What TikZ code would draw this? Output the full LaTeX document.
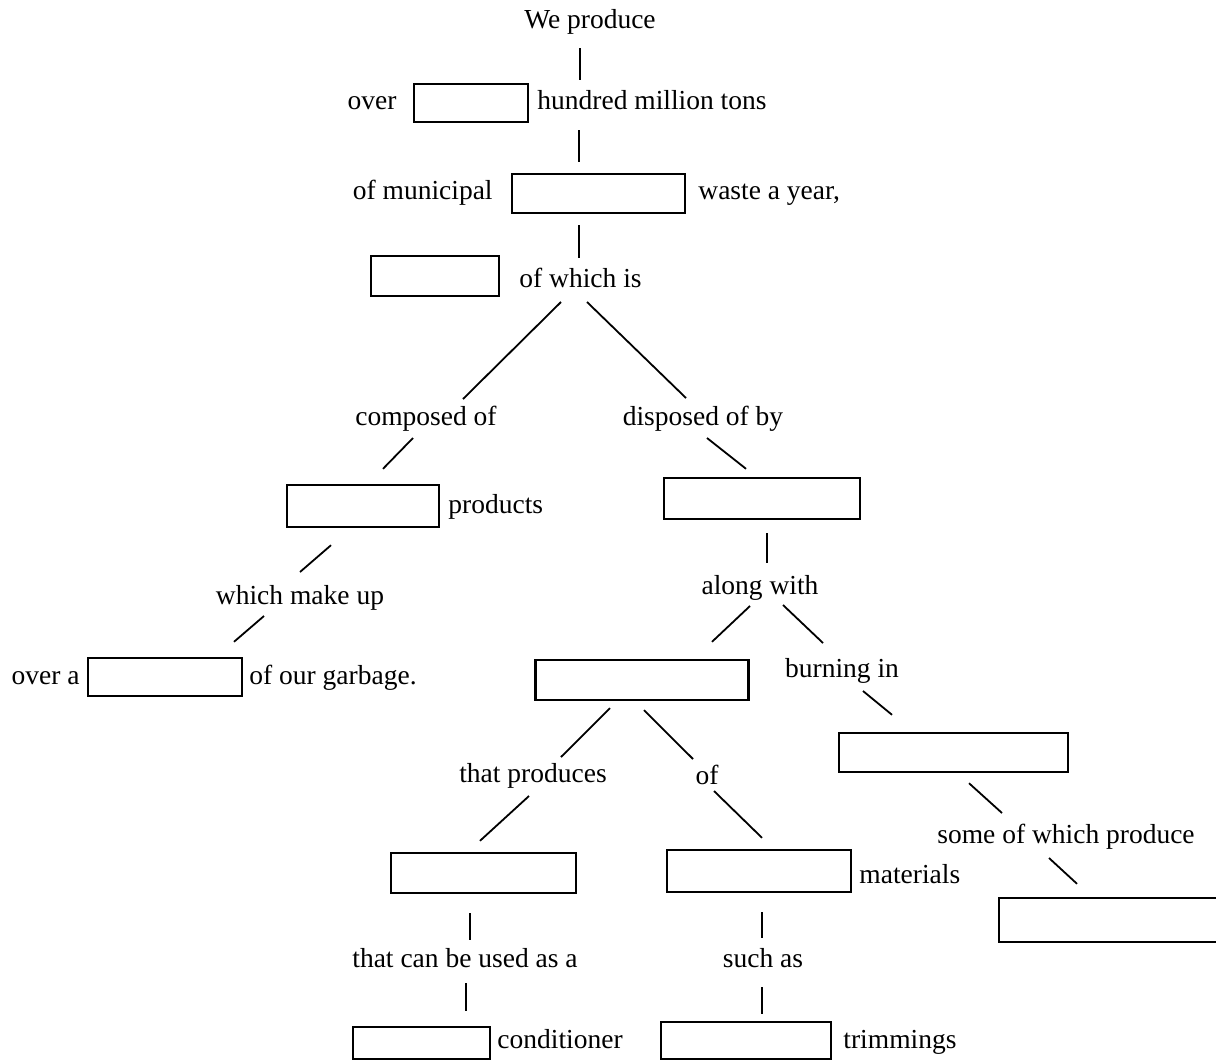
\documentclass[tikz,border=0pt]{standalone}
\usepackage{fontspec}
\setmainfont{Liberation Serif}
\usetikzlibrary{calc}
\newcommand\mapfont{\fontsize{13.75pt}{16pt}\selectfont}

\begin{document}
\begin{tikzpicture}[
        x=0.5pt, y=-0.5pt,
        word/.style  = {inner sep=0pt, font=\mapfont},
        blank/.style 2 args = {rectangle, draw, line width=1.2pt, inner sep=0pt,
                      minimum width=#1, minimum height=#2},
        link/.style  = {line width=0.9pt}
    ]
    \useasboundingbox (0,0) rectangle (1216,1061);
    % top chain
    \node[word, anchor=base] (wp) at (590,28) {We produce};
    \node[word, anchor=base east] (ov) at (397,109) {over};
    \node[blank={57pt}{19pt}] (b1) at (471,103) {};
    \node[word, anchor=base west] (hm) at (537,109) {hundred million tons};
    \node[word, anchor=base east] (om) at (493,199) {of municipal};
    \node[blank={86.5pt}{19.5pt}] (b2) at (598.5,193.5) {};
    \node[word, anchor=base west] (wy) at (698,199) {waste a year,};
    \node[blank={64pt}{20pt}] (b3) at (435,276) {};
    \node[word, anchor=base west] (wi) at (519,287) {of which is};
    % left branch
    \node[word, anchor=base] (co) at (426,425) {composed of};
    \node[blank={76pt}{21pt}] (b4) at (363,506) {};
    \node[word, anchor=base west] (pr) at (448,513) {products};
    \node[word, anchor=base] (wm) at (300,604) {which make up};
    \node[word, anchor=base east] (oa) at (80,684) {over a};
    \node[blank={77pt}{19pt}] (b6) at (165,677) {};
    \node[word, anchor=base west] (og) at (249,684) {of our garbage.};
    % right branch
    \node[word, anchor=base] (di) at (703,425) {disposed of by};
    \node[blank={98pt}{20.5pt}] (b5) at (762,498.5) {};
    \node[word, anchor=base] (al) at (760,594) {along with};
    \node[blank={106.5pt}{20pt}] (b7) at (642,680) {};
    \node[word, anchor=base] (bu) at (842,677) {burning in};
    \node[blank={114.5pt}{19.5pt}] (b8) at (953.5,752.5) {};
    \node[word, anchor=base] (tp) at (533,782) {that produces};
    \node[word, anchor=base] (of) at (707,784) {of};
    \node[word, anchor=base] (so) at (1066,843) {some of which produce};
    \node[blank={92.5pt}{20pt}] (b9) at (483.5,873) {};
    \node[blank={92pt}{21pt}] (b10) at (759,871) {};
    \node[word, anchor=base west] (ma) at (859,883) {materials};
    \node[blank={110.5pt}{22pt}] (b11) at (1109.5,920) {};
    \node[word, anchor=base] (tc) at (465,967) {that can be used as a};
    \node[word, anchor=base] (sa) at (763,967) {such as};
    \node[blank={68.5pt}{16pt}] (b12) at (421.5,1043) {};
    \node[word, anchor=base west] (cn) at (497,1048) {conditioner};
    \node[blank={85pt}{18.5pt}] (b13) at (746,1040.5) {};
    \node[word, anchor=base west] (tr) at (843,1048) {trimmings};

    \draw[link] ($(wp.base)+(-10,20)$) -- ($(hm.base west)+(43,-29)$);
    \draw[link] ($(hm.base west)+(42,21)$) -- ($(b2.north)+(-19.5,-11)$);
    \draw[link] ($(b2.south)+(-19.5,11)$) -- ($(wi.base west)+(60,-29)$);
    \draw[link] ($(wi.base west)+(42,15)$) -- ($(co.base)+(37,-26)$);
    \draw[link] ($(wi.base west)+(68,15)$) -- ($(di.base)+(-17,-27)$);
    \draw[link] ($(co.base)+(-13,13)$) -- ($(b4.north)+(20,-15)$);
    \draw[link] ($(di.base)+(4,13)$) -- ($(b5.north)+(-16,-8)$);
    \draw[link] ($(b4.south)+(-32,17)$) -- ($(wm.base)+(0,-32)$);
    \draw[link] ($(b5.south)+(5,13)$) -- ($(al.base)+(7,-31)$);
    \draw[link] ($(wm.base)+(-36,12)$) -- ($(b6.north)+(69,-15)$);
    \draw[link] ($(al.base)+(-10,12)$) -- ($(b7.north)+(70,-17)$);
    \draw[link] ($(al.base)+(23,11)$) -- ($(bu.base)+(-19,-34)$);
    \draw[link] ($(b7.south)+(-32,7)$) -- ($(tp.base)+(28,-25)$);
    \draw[link] ($(b7.south)+(2,9)$) -- ($(of.base)+(-14,-25)$);
    \draw[link] ($(bu.base)+(21,14)$) -- ($(b8.north)+(-61.5,-17)$);
    \draw[link] ($(tp.base)+(-4,14)$) -- ($(b9.north)+(-3.5,-11)$);
    \draw[link] ($(of.base)+(7,7)$) -- ($(b10.north)+(3,-11)$);
    \draw[link] ($(b8.south)+(15.5,10)$) -- ($(so.base)+(-64,-30)$);
    \draw[link] ($(so.base)+(-17,15)$) -- ($(b11.north)+(-32.5,-13)$);
    \draw[link] ($(b9.south)+(-13.5,19)$) -- ($(tc.base)+(5,-27)$);
    \draw[link] ($(b10.south)+(3,19)$) -- ($(sa.base)+(-1,-29)$);
    \draw[link] ($(tc.base)+(1,16)$) -- ($(b12.north)+(44.5,-15)$);
    \draw[link] ($(sa.base)+(-1,20)$) -- ($(b13.north)+(16,-7)$);
\end{tikzpicture}
\end{document}
